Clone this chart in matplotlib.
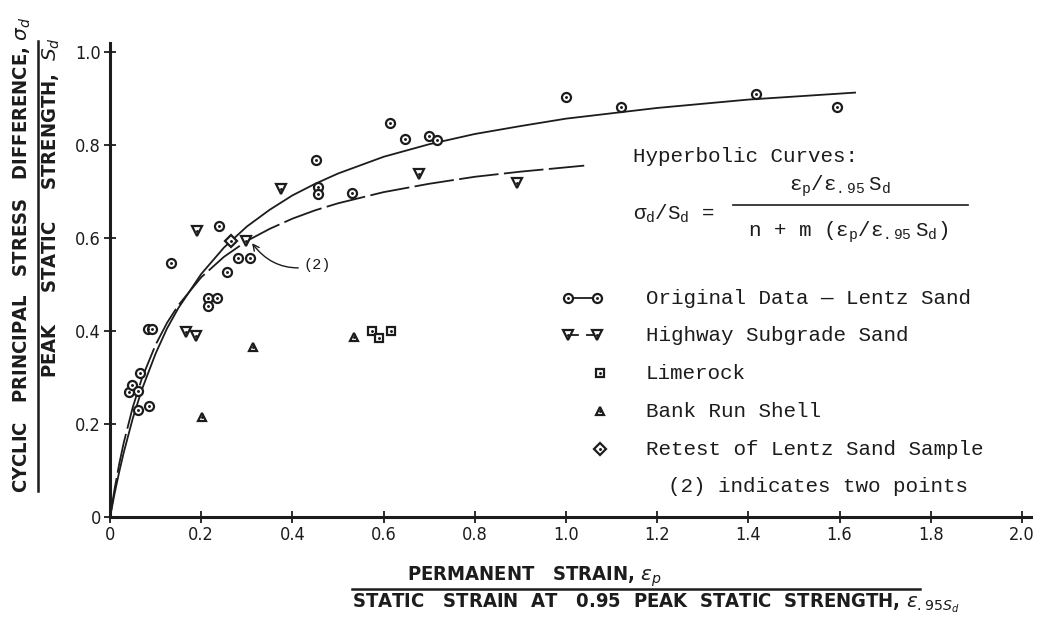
import matplotlib.pyplot as plt
import numpy as np
from matplotlib.lines import Line2D

plt.rcParams['mathtext.fontset'] = 'custom'
plt.rcParams['mathtext.rm'] = 'Liberation Mono'
plt.rcParams['mathtext.it'] = 'Liberation Mono'
plt.rcParams['mathtext.bf'] = 'Liberation Mono:bold'

ink = '#1c1c1c'
mono = 'Liberation Mono'
narrow = ['DejaVu Sans']

# Original data - Lentz sand (circles)
lentz_x = [0.042, 0.049, 0.061, 0.066, 0.061, 0.086, 0.084, 0.092, 0.133, 0.214, 0.234, 0.214,
           0.256, 0.239, 0.281, 0.307, 0.452, 0.457, 0.457, 0.531, 0.613, 0.647, 0.700, 0.718,
           0.999, 1.121, 1.417, 1.594]
lentz_y = [0.270, 0.285, 0.272, 0.310, 0.230, 0.239, 0.404, 0.404, 0.547, 0.472, 0.472, 0.455,
           0.528, 0.626, 0.558, 0.558, 0.768, 0.710, 0.695, 0.698, 0.848, 0.814, 0.819, 0.812,
           0.904, 0.882, 0.911, 0.882]

# Highway subgrade sand (down triangles)
hwy_x = [0.167, 0.188, 0.190, 0.298, 0.375, 0.677, 0.893]
hwy_y = [0.399, 0.389, 0.616, 0.593, 0.705, 0.737, 0.718]

# Limerock (squares)
lime_x = [0.574, 0.590, 0.616]
lime_y = [0.401, 0.386, 0.400]

# Bank run shell (triangles)
shell_x = [0.201, 0.314, 0.535]
shell_y = [0.216, 0.366, 0.388]

# Retest of Lentz sand sample (diamond)
retest_x = [0.265]
retest_y = [0.594]

# hyperbolic curves
solid_x = [0, 0.01, 0.02, 0.03, 0.05, 0.07, 0.1, 0.125, 0.15, 0.2, 0.25, 0.3, 0.35, 0.4, 0.45,
           0.5, 0.6, 0.7, 0.8, 0.9, 1.0, 1.2, 1.4, 1.634]
solid_y = [0, 0.051, 0.097, 0.139, 0.213, 0.275, 0.352, 0.406, 0.450, 0.523, 0.580, 0.625, 0.661,
           0.692, 0.717, 0.739, 0.775, 0.802, 0.824, 0.841, 0.857, 0.880, 0.898, 0.913]
dash_x = [0, 0.01, 0.02, 0.03, 0.05, 0.07, 0.1, 0.125, 0.15, 0.2, 0.25, 0.3, 0.35, 0.4, 0.45,
          0.5, 0.6, 0.7, 0.8, 0.9, 1.04]
dash_y = [0, 0.061, 0.114, 0.160, 0.237, 0.299, 0.371, 0.418, 0.456, 0.516, 0.560, 0.594, 0.620,
          0.642, 0.660, 0.675, 0.699, 0.717, 0.732, 0.743, 0.756]

xticks = [0, 0.2, 0.4, 0.6, 0.8, 1.0, 1.2, 1.4, 1.6, 1.8, 2.0]
xlabels = ['0', '0.2', '0.4', '0.6', '0.8', '1.0', '1.2', '1.4', '1.6', '1.8', '2.0']
yticks = [0, 0.2, 0.4, 0.6, 0.8, 1.0]
ylabels = ['0', '0.2', '0.4', '0.6', '0.8', '1.0']

fig = plt.figure(figsize=(10.49, 6.30), dpi=100)
ax = fig.add_axes([0.1049, 0.179, 0.878, 0.753])


def pts(x, y, marker, ms=6.5):
    ax.plot(x, y, ls='none', marker=marker, ms=ms, mfc='white', mec=ink, mew=1.6, zorder=3,
            clip_on=False)
    ax.plot(x, y, ls='none', marker='.', ms=2.2, color=ink, zorder=4, clip_on=False)


ax.plot(solid_x, solid_y, color=ink, lw=1.3, zorder=2)
ax.plot(dash_x, dash_y, color=ink, lw=1.3, dashes=(22, 3), zorder=2)

pts(lentz_x, lentz_y, 'o')
pts(hwy_x, hwy_y, 'v', 7)
pts(lime_x, lime_y, 's', 5.8)
pts(shell_x, shell_y, '^', 6.3)
pts(retest_x, retest_y, 'D', 5.8)

ax.annotate('(2)', xy=(0.308, 0.594), xytext=(0.425, 0.542), fontsize=11, family=mono,
            color=ink, va='center', ha='left',
            arrowprops=dict(arrowstyle='->', connectionstyle='arc3,rad=-0.35', color=ink, lw=1))

# formula
ax.text(1.147, 0.776, 'Hyperbolic Curves:', family=mono, fontsize=15, color=ink, va='center')
ax.text(1.147, 0.652, r'$\sigma_d/S_d$ =', family=mono, fontsize=15, color=ink, va='center')
ax.text(1.60, 0.712, r'$\epsilon_p/\epsilon_{.95}\ S_d$', fontsize=15, color=ink,
        ha='center', va='center')
ax.plot([1.366, 1.882], [0.671, 0.671], color=ink, lw=1.2)
ax.text(1.618, 0.612, r'n + m ($\epsilon_p/\epsilon_{.95}\ S_d$)', family=mono, fontsize=15,
        color=ink, ha='center', va='center')

# hand drawn legend
rows = [0.471, 0.391, 0.310, 0.228, 0.146]
names = ['Original Data \u2014 Lentz Sand', 'Highway Subgrade Sand', 'Limerock',
         'Bank Run Shell', 'Retest of Lentz Sand Sample']
ax.plot([1.004, 1.068], [rows[0]] * 2, color=ink, lw=1.3)
pts([1.004, 1.068], [rows[0]] * 2, 'o')
ax.plot([1.004, 1.068], [rows[1]] * 2, color=ink, lw=1.3, dashes=(6, 4))
pts([1.004, 1.068], [rows[1]] * 2, 'v', 7)
pts([1.075], [rows[2]], 's', 5.8)
pts([1.075], [rows[3]], '^', 6.3)
pts([1.075], [rows[4]], 'D', 5.8)
for r, nm in zip(rows, names):
    ax.text(1.175, r, nm, family=mono, fontsize=15, color=ink, va='center')
ax.text(1.224, 0.065, '(2) indicates two points', family=mono, fontsize=15, color=ink,
        va='center')

ax.set_xlim(0, 2.02)
ax.set_ylim(0, 1.02)
ax.set_xticks(xticks)
ax.set_xticklabels(xlabels, family=narrow, stretch='condensed', fontsize=13, color=ink)
ax.set_yticks(yticks)
ax.set_yticklabels(ylabels, family=narrow, stretch='condensed', fontsize=13, color=ink)
ax.tick_params(direction='inout', length=9, width=1.3, color=ink, pad=2)
for s in ['top', 'right']:
    ax.spines[s].set_visible(False)
for s in ['left', 'bottom']:
    ax.spines[s].set_linewidth(2.2)
    ax.spines[s].set_color(ink)

# axis labels as fractions
lab = dict(family=narrow, stretch='condensed', weight='bold', fontsize=14.5, color=ink,
           math_fontfamily='dejavusans')
fig.text(0.510, 0.085, r'PERMANENT   STRAIN, $\epsilon_p$', ha='center', va='center', **lab)
fig.add_artist(Line2D([0.336, 0.877], [0.065, 0.065], color=ink, lw=1.8))
fig.text(0.336, 0.042,
         r'STATIC   STRAIN  AT   0.95  PEAK  STATIC  STRENGTH, $\epsilon_{.95S_d}$',
         ha='left', va='center', **lab)

fig.text(0.021, 0.595, r'CYCLIC   PRINCIPAL   STRESS   DIFFERENCE, $\sigma_d$', rotation=90,
         ha='center', va='center', **lab)
fig.add_artist(Line2D([0.036, 0.036], [0.22, 0.935], color=ink, lw=1.8))
fig.text(0.049, 0.67, r'PEAK     STATIC     STRENGTH,  $S_d$', rotation=90, ha='center',
         va='center', **lab)

plt.savefig('out.png', dpi=100)
